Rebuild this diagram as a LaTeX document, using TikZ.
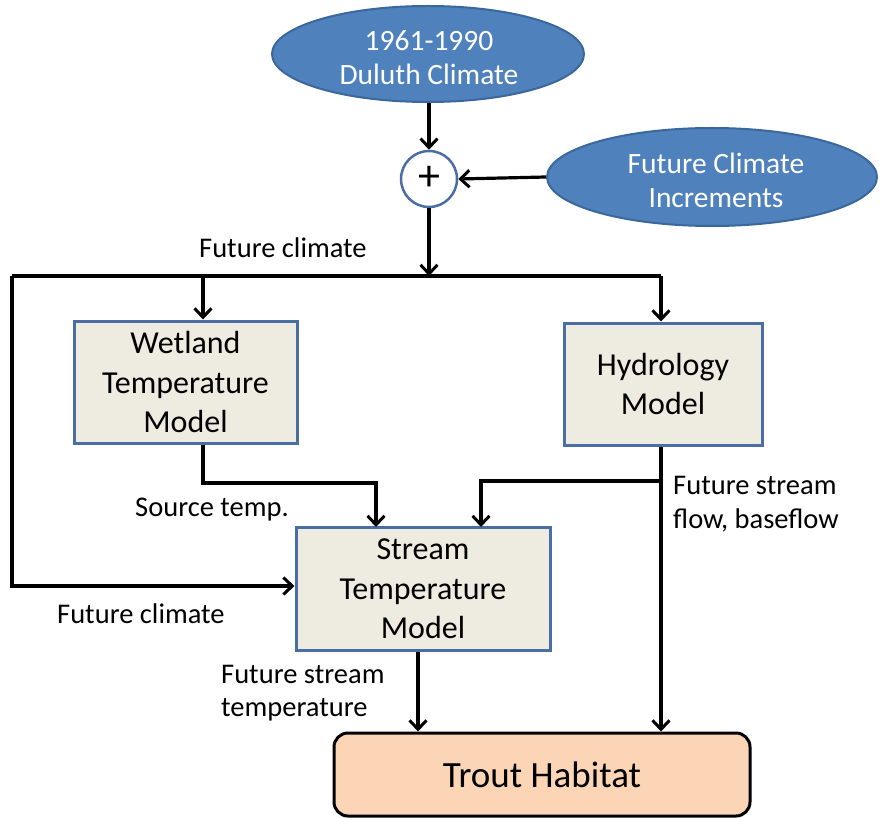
\documentclass[tikz,border=0pt]{standalone}
\usepackage{fontspec}
\setmainfont{Carlito}
\usetikzlibrary{arrows.meta,shapes.geometric}
\definecolor{ovalfill}{HTML}{4F81BD}
\definecolor{ovaledge}{HTML}{3A679C}
\definecolor{boxfill}{HTML}{EEECE1}
\definecolor{boxedge}{HTML}{4A6EA3}
\definecolor{habfill}{HTML}{FBD5B5}
\tikzset{
  oval/.style={ellipse, draw=ovaledge, fill=ovalfill, line width=2pt, text=white,
    inner sep=0pt, align=center, font=\fontsize{29.5}{34}\selectfont},
  modelbox/.style={rectangle, draw=boxedge, fill=boxfill, line width=3pt, inner sep=0pt,
    align=center, font=\fontsize{32}{39.5}\selectfont},
  habbox/.style={rectangle, rounded corners=14pt, draw=black, fill=habfill, line width=3pt,
    inner sep=0pt, font=\fontsize{37}{40}\selectfont},
  summer/.style={circle, draw=boxedge, fill=white, line width=2.5pt, minimum size=56pt,
    inner sep=0pt, font=\fontsize{44}{44}\selectfont},
  flow/.style={line width=3.2pt, -{Straight Barb[length=9pt,width=17pt,line width=3pt]}},
  wire/.style={line width=3.2pt},
  lbl/.style={font=\fontsize{28.5}{33.5}\selectfont, inner sep=0pt, align=left}
}
\begin{document}
\begin{tikzpicture}[x=1pt,y=-1pt]
\useasboundingbox (0,0) rectangle (880,818);

% inputs and the summing junction
\node[oval, minimum width=312pt, minimum height=96pt] (duluth) at (428,54) {};
\node[font=\fontsize{29.5}{34}\selectfont, text=white, align=center, inner sep=0pt] (duluthtext) at (429,58) {1961-1990\\Duluth Climate};
\node[oval, minimum width=330pt, minimum height=98pt] (incr) at (712,177) {};
\node[font=\fontsize{29.5}{34}\selectfont, text=white, align=center, inner sep=0pt] (incrtext) at (716,180) {Future Climate\\Increments};
\node[summer] (sum) at (429,179) {\raisebox{1pt}{+}};

% models
\node[modelbox, minimum width=223pt, minimum height=122pt] (wet) at (185.5,382) {Wetland\\Temperature\\Model};
\node[modelbox, minimum width=198pt, minimum height=122pt] (hyd) at (663,384) {Hydrology\\Model};
\node[modelbox, minimum width=254pt, minimum height=123pt] (stream) at (423,589) {Stream\\Temperature\\Model};
\node[habbox, minimum width=416pt, minimum height=83pt] (trout) at (542,774.5) {Trout Habitat};

% junction points of the climate bus and the branch lines
\coordinate (busL) at (12,276);
\coordinate (busR) at (661,276);
\coordinate (wetbend) at (203,483);
\coordinate (hydbend) at (661,481);

% climate inputs
\draw[flow] (duluth.south -| sum) -- (sum.north);
\draw[flow] (incr.west) -- (sum.east);
\draw[flow] (sum.south) -- (sum |- busL);
\draw[wire] (busL) -- (busR);
\draw[flow] (busL -| wetbend) -- ([xshift=17.5pt]wet.north);
\draw[flow] (busR) -- (hyd.north -| busR);
\draw[flow] (busL) -- (12,586) -- (stream.west |- 0,586);

% model outputs
\draw[flow] ([xshift=17.5pt]wet.south) -- (wetbend) -- (376,483) -- (376,527);
\draw[wire] (hyd.south -| hydbend) -- (hydbend);
\draw[flow] (hydbend) -- (481,481) -- (481,527);
\draw[flow] (hydbend) -- (trout.north -| hydbend);
\draw[flow] (stream.south -| 418,0) -- (trout.north -| 418,0);

% labels
\node[lbl, anchor=west] (lclim) at (199,248) {Future climate};
\node[lbl, anchor=west] (lsrc) at (135,510) {Source temp.};
\node[lbl, anchor=west] (lclim2) at (57,614) {Future climate};
\node[lbl, anchor=west] (lflow) at (673,504) {Future stream\\flow, baseflow};
\node[lbl, anchor=west] (ltemp) at (221,693) {Future stream\\temperature};
\end{tikzpicture}
\end{document}
